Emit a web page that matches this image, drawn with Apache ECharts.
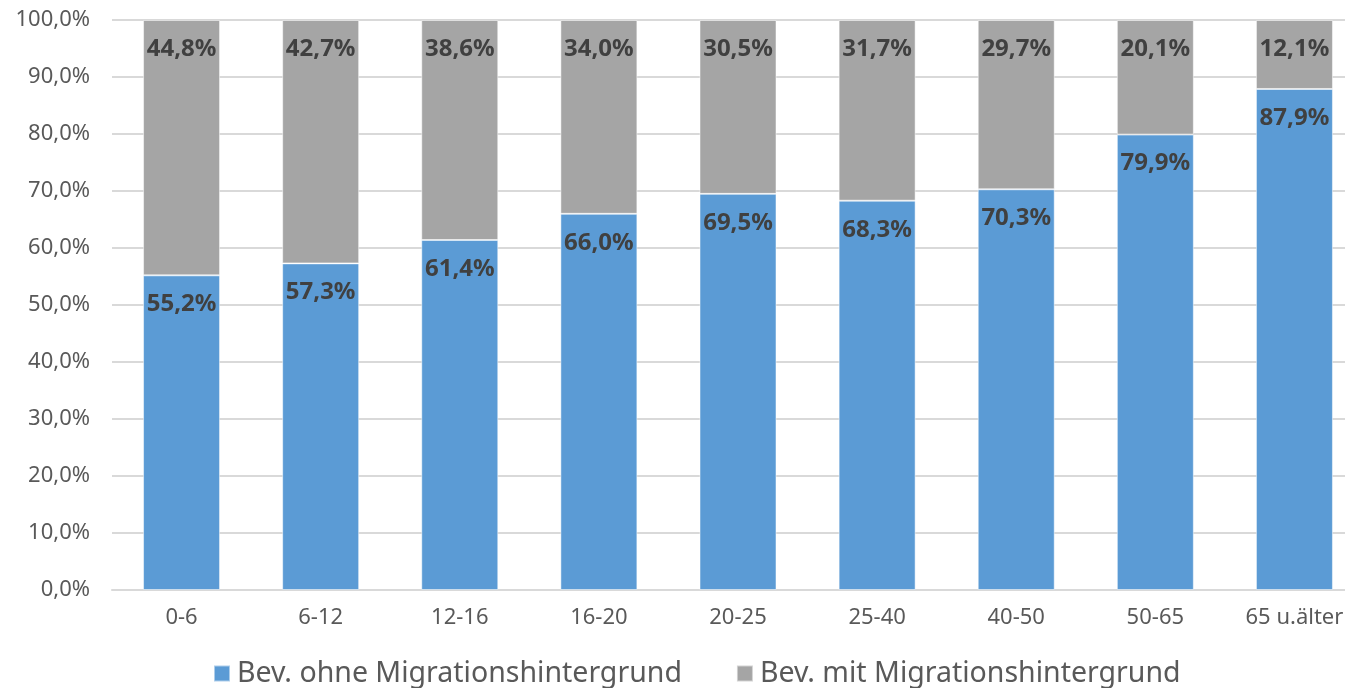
<!DOCTYPE html>
<html><head><meta charset="utf-8">
<script src="https://cdn.jsdelivr.net/npm/echarts@6/dist/echarts.min.js"></script>
<style>html,body{margin:0;padding:0;background:#fff}#c{width:1345px;height:688px}</style>
</head><body><div id="c"></div>
<script>
const categories = ['0-6','6-12','12-16','16-20','20-25','25-40','40-50','50-65','65 u.älter'];
const ohne = [55.2,57.3,61.4,66.0,69.5,68.3,70.3,79.9,87.9];
const mit = [44.8,42.7,38.6,34.0,30.5,31.7,29.7,20.1,12.1];
const seriesNames = ['Bev. ohne Migrationshintergrund','Bev. mit Migrationshintergrund'];
const FONT = '"Noto Sans", "Open Sans", sans-serif';
const fmt = v => v.toFixed(1).replace('.', ',') + '%';
const chart = echarts.init(document.getElementById('c'));
const lbl = {show:true, position:'insideTop', distance:17, color:'#404040', fontWeight:'bold', fontSize:24, fontFamily:FONT, formatter:p=>fmt(p.value)};
chart.setOption({
  animation:false,
  grid:{left:112, top:20, width:1252, height:570, containLabel:false, outerBoundsMode:'none'},
  xAxis:{type:'category', data:categories,
    axisLine:{lineStyle:{color:'#D9D9D9', width:2}}, axisTick:{show:false},
    axisLabel:{color:'#595959', fontSize:22, fontFamily:FONT, margin:17}},
  yAxis:{type:'value', min:0, max:100, interval:10,
    axisLabel:{color:'#595959', fontSize:22, fontFamily:FONT, margin:22, formatter:v=>fmt(v)},
    splitLine:{lineStyle:{color:'#D9D9D9', width:2}}, axisLine:{show:false}, axisTick:{show:false}},
  legend:{bottom:-5, left:208, itemWidth:16, itemHeight:16, itemGap:54, icon:'rect',
    textStyle:{color:'#595959', fontSize:28.5, fontFamily:FONT, padding:[0,0,0,2]}},
  series:[
    {name:seriesNames[0], type:'bar', stack:'s', data:ohne, barWidth:77,
      itemStyle:{color:'#5B9BD5', borderColor:'rgba(255,255,255,0.5)', borderWidth:1}, label:lbl},
    {name:seriesNames[1], type:'bar', stack:'s', data:mit, barWidth:77,
      itemStyle:{color:'#A5A5A5', borderColor:'rgba(255,255,255,0.5)', borderWidth:1}, label:lbl}
  ]
});
</script></body></html>
